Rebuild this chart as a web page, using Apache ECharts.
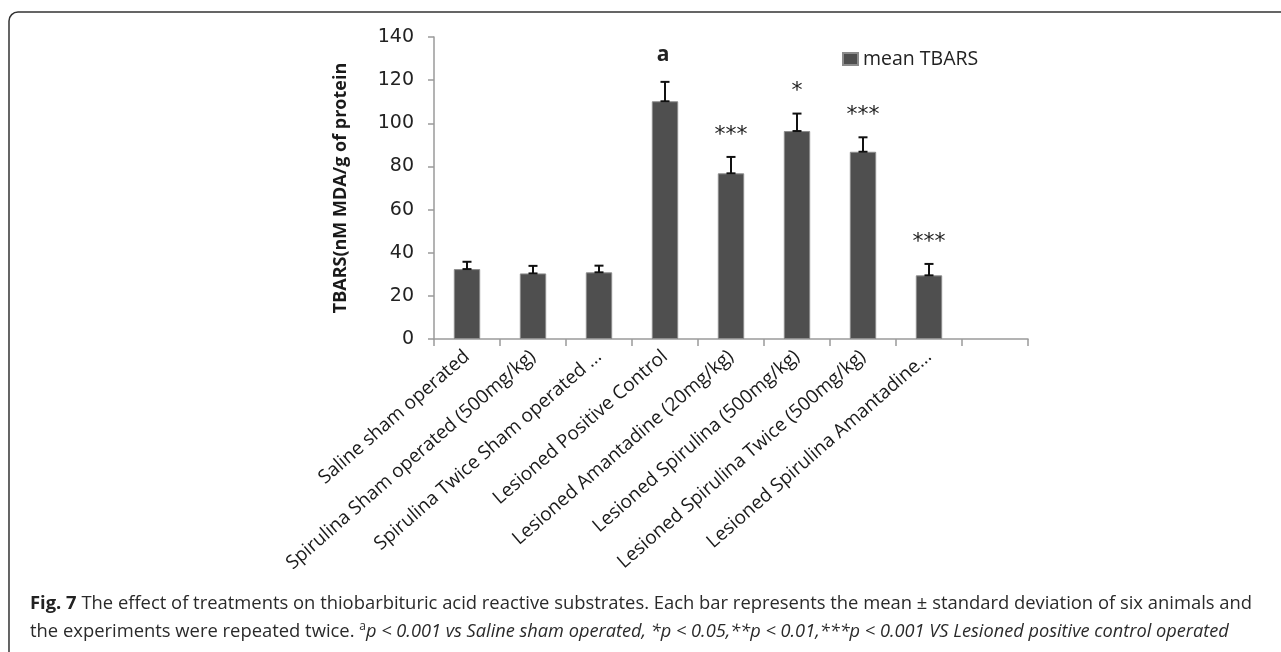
<!DOCTYPE html>
<html>
<head>
<meta charset="utf-8">
<script src="https://cdn.jsdelivr.net/npm/echarts@6/dist/echarts.min.js"></script>
<style>
  html, body { margin: 0; padding: 0; background: #fff; }
  #chart { width: 1281px; height: 652px; }
</style>
</head>
<body>
<div id="chart"></div>
<script>
// Treatment groups (the last slot is an empty category, as in the original layout)
const categories = [
  'Saline sham operated',
  'Spirulina Sham operated (500mg/kg)',
  'Spirulina Twice Sham operated ...',
  'Lesioned Positive Control',
  'Lesioned Amantadine (20mg/kg)',
  'Lesioned Spirulina (500mg/kg)',
  'Lesioned Spirulina Twice (500mg/kg)',
  'Lesioned Spirulina Amantadine...',
  ''
];
// Mean TBARS (nM MDA/g of protein) and standard deviation per group
const meanTBARS = [32.4, 30.4, 30.9, 110.2, 76.8, 96.4, 86.8, 29.5];
const sdTBARS   = [3.4, 3.5, 3.1, 9.0, 7.6, 8.1, 6.7, 5.3];
// Significance marks above each bar
const sigMarks  = ['', '', '', 'a', '***', '*', '***', '***'];
// Value axis range
const yMin = 0, yMax = 140, yStep = 20;

const axisGray = '#9a9a9a';
const labelFont = 'Open Sans';

const chart = echarts.init(document.getElementById('chart'));

const errData = meanTBARS.map((v, i) => [i, v, sdTBARS[i]]);

chart.setOption({
  animation: false,
  backgroundColor: '#ffffff',
  grid: { left: 434, right: 253, top: 37, bottom: 313, containLabel: false },
  legend: {
    data: ['mean TBARS'],
    left: 842, top: 49, padding: 0,
    icon: 'rect', itemWidth: 15, itemHeight: 12, itemGap: 5,
    textStyle: { fontFamily: labelFont, fontSize: 19.5, color: '#222', padding: [0, 0, 0, 0] }
  },
  xAxis: {
    type: 'category',
    data: categories,
    boundaryGap: true,
    axisLine: { lineStyle: { color: axisGray, width: 1.5 } },
    axisTick: { show: true, length: 7, alignWithLabel: false, lineStyle: { color: axisGray, width: 1.5 } },
    axisLabel: {
      interval: 0, rotate: 41, margin: 15,
      fontFamily: labelFont, fontSize: 19, color: '#1a1a1a'
    },
    splitLine: { show: false }
  },
  yAxis: {
    type: 'value',
    min: yMin, max: yMax, interval: yStep,
    name: 'TBARS(nM MDA/g of protein',
    nameLocation: 'middle', nameRotate: 90, nameGap: 84,
    nameTextStyle: { fontFamily: labelFont, fontSize: 18, fontWeight: 'bold', color: '#1a1a1a' },
    axisLine: { show: true, lineStyle: { color: axisGray, width: 1.5 } },
    axisTick: { show: true, inside: false, length: 6, lineStyle: { color: axisGray, width: 1.5 } },
    axisLabel: { margin: 20, fontFamily: 'DejaVu Sans', fontSize: 19, color: '#222' },
    splitLine: { show: false }
  },
  series: [
    {
      name: 'mean TBARS',
      type: 'bar',
      data: meanTBARS,
      barWidth: '40%',
      itemStyle: { color: '#4f4f4f', borderColor: '#8c8c8c', borderWidth: 1 }
    },
    {
      name: 'sd',
      type: 'custom',
      data: errData,
      z: 5,
      renderItem: function (params, api) {
        const i = api.value(0), v = api.value(1), sd = api.value(2);
        const p0 = api.coord([i, v]);
        const p1 = api.coord([i, v + sd]);
        const hw = 4.5;
        const st = { stroke: '#111', lineWidth: 2 };
        const children = [
          { type: 'line', shape: { x1: p0[0], y1: p0[1], x2: p1[0], y2: p1[1] }, style: st },
          { type: 'line', shape: { x1: p0[0] - hw, y1: p0[1], x2: p0[0] + hw, y2: p0[1] }, style: st },
          { type: 'line', shape: { x1: p1[0] - hw, y1: p1[1], x2: p1[0] + hw, y2: p1[1] }, style: st }
        ];
        const mark = sigMarks[params.dataIndex];
        if (mark) {
          const isLetter = mark === 'a';
          children.push({
            type: 'text',
            style: {
              text: mark,
              x: p1[0] - (isLetter ? 2 : 0),
              y: p1[1] - (isLetter ? 27 : 22),
              align: 'center', verticalAlign: 'middle',
              fill: '#222',
              font: isLetter ? 'bold 21px "Open Sans"' : '22px "DejaVu Sans"'
            }
          });
        }
        return { type: 'group', children: children };
      }
    }
  ],
  graphic: [
    {
      type: 'rect', silent: true,
      shape: { x: 9, y: 12, width: 1300, height: 700, r: 9 },
      style: { fill: 'none', stroke: '#333', lineWidth: 1.5 }
    },
    {
      type: 'text', left: 30, top: 595,
      style: {
        text: '{b|Fig. 7} The effect of treatments on thiobarbituric acid reactive substrates. Each bar represents the mean \u00b1 standard deviation of six animals and',
        rich: { b: { fontFamily: 'Open Sans', fontWeight: 'bold', fontSize: 18.4, fill: '#222' } },
        fontFamily: 'Open Sans', fontSize: 18.4, fill: '#2a2a2a'
      }
    },
    {
      type: 'text', left: 30, top: 621,
      style: {
        text: 'the experiments were repeated twice. {s|a}{i|p < 0.001 vs Saline sham operated, *p < 0.05,**p < 0.01,***p < 0.001 VS Lesioned positive control operated}',
        rich: {
          s: { fontFamily: 'Open Sans', fontSize: 12, verticalAlign: 'top', padding: [0, 0, 9, 0], fill: '#2a2a2a' },
          i: { fontFamily: 'Open Sans', fontStyle: 'italic', fontSize: 18.2, fill: '#2a2a2a' }
        },
        fontFamily: 'Open Sans', fontSize: 18.4, fill: '#2a2a2a'
      }
    }
  ]
});
</script>
</body>
</html>
